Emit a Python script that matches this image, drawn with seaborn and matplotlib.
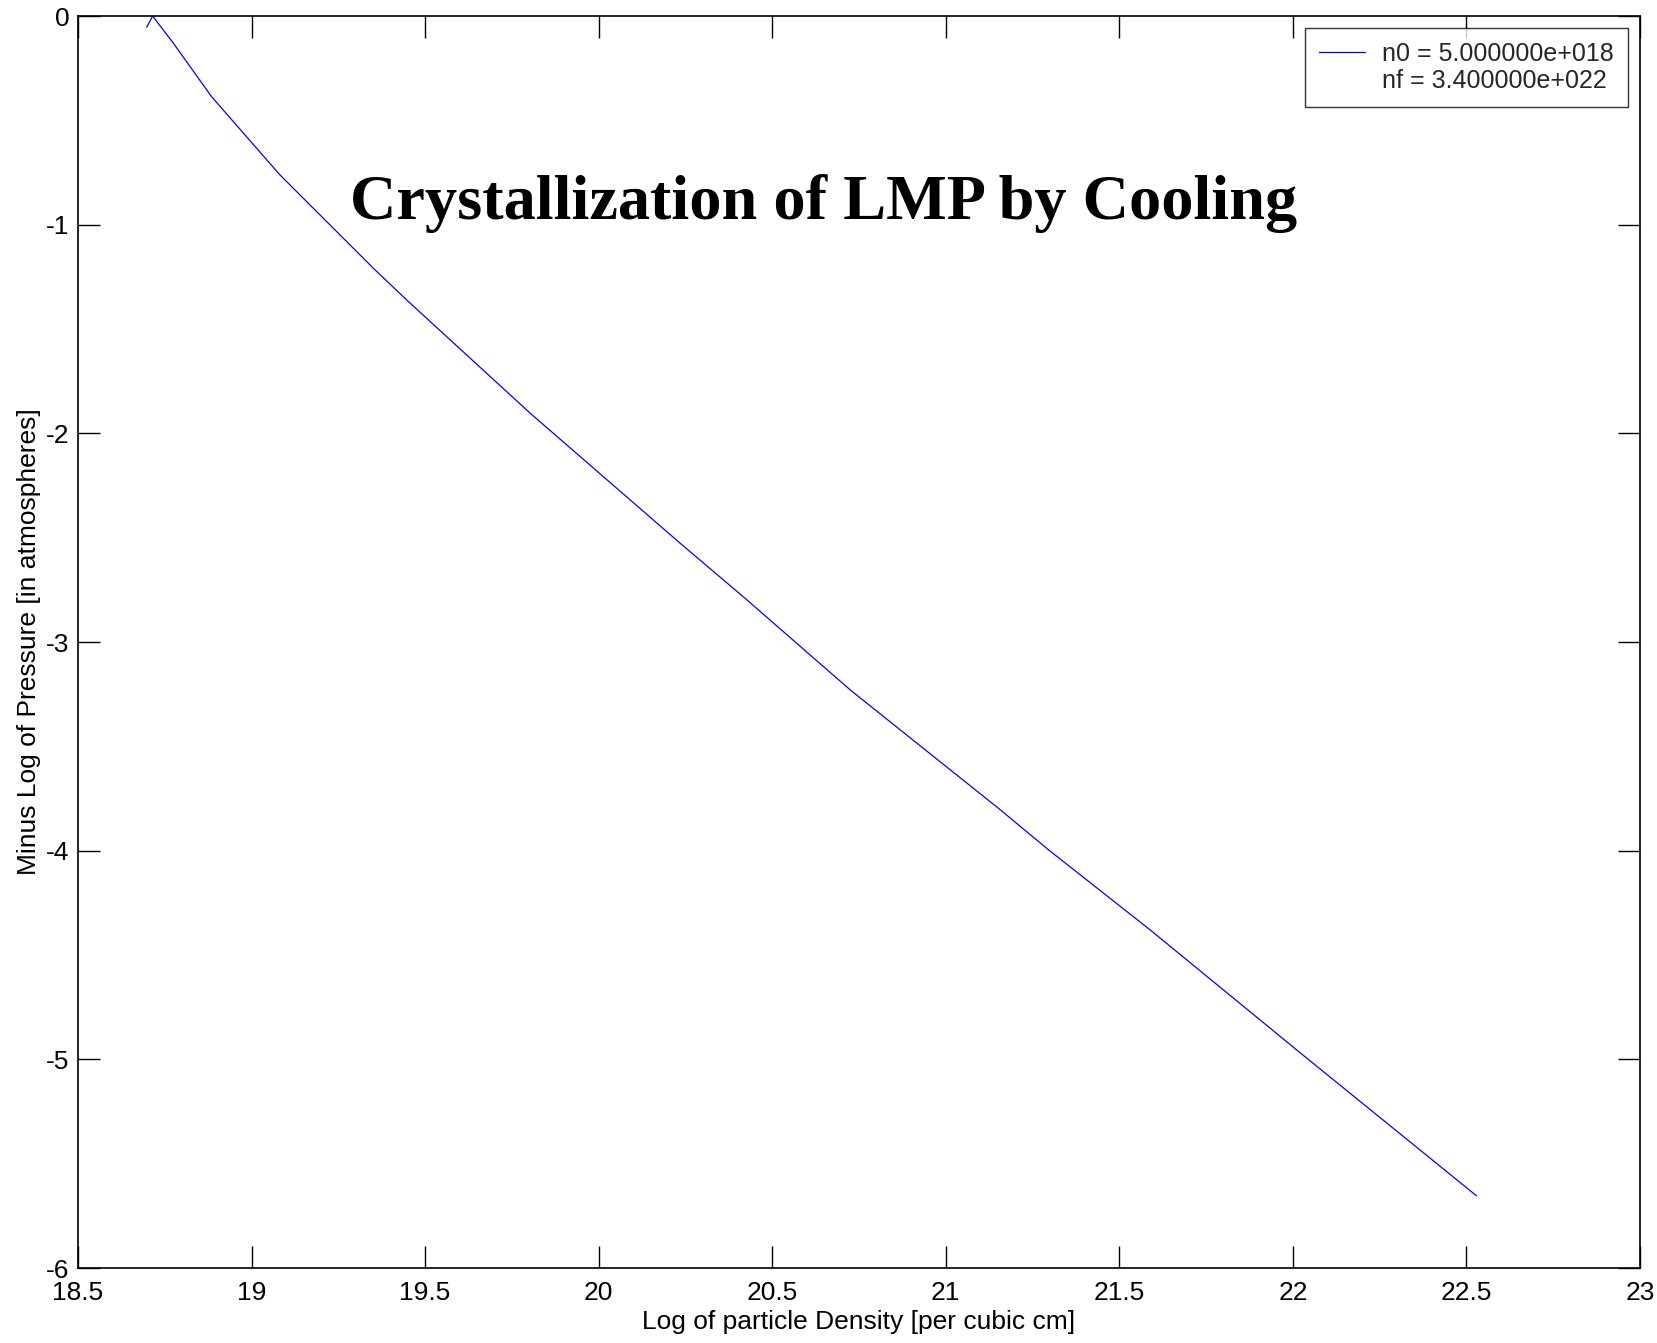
import numpy as np
import pandas as pd
import matplotlib
matplotlib.use("Agg")
import matplotlib.pyplot as plt
from matplotlib.lines import Line2D
import seaborn as sns

# Data
log_density = [18.698, 18.715, 18.775, 18.885, 19.082, 19.351, 19.447, 19.803,
               20.235, 20.427, 20.725, 21.157, 21.296, 21.589, 22.022, 22.529]
minus_log_pressure = [-0.054, 0.0, -0.131, -0.387, -0.762, -1.209, -1.361, -1.904,
                      -2.527, -2.798, -3.230, -3.804, -3.996, -4.380, -4.970, -5.654]
x_ticks = [18.5, 19, 19.5, 20, 20.5, 21, 21.5, 22, 22.5, 23]
x_tick_labels = ["18.5", "19", "19.5", "20", "20.5", "21", "21.5", "22", "22.5", "23"]
y_ticks = [-6, -5, -4, -3, -2, -1, 0]
y_tick_labels = ["-6", "-5", "-4", "-3", "-2", "-1", "0"]
legend_labels = ["n0 = 5.000000e+018", "nf = 3.400000e+022"]
title_text = "Crystallization of LMP by Cooling"
x_label = "Log of particle Density [per cubic cm]"
y_label = "Minus Log of Pressure [in atmospheres]"

sns.set_theme(style="white")
plt.rcParams['font.family'] = ['Liberation Sans', 'DejaVu Sans']

df = pd.DataFrame({"x": log_density, "y": minus_log_pressure})

fig = plt.figure(figsize=(16.58, 13.43), dpi=100)
ax = fig.add_axes([78/1658, 1 - 1268/1343, (1640-78)/1658, (1268-16)/1343])

sns.lineplot(data=df, x="x", y="y", ax=ax, color="#0000ff", linewidth=0.9,
             sort=False, estimator=None)

ax.set_xlim(18.5, 23)
ax.set_ylim(-6, 0)
ax.set_xticks(x_ticks)
ax.set_xticklabels(x_tick_labels)
ax.set_yticks(y_ticks)
ax.set_yticklabels(y_tick_labels)
ax.tick_params(axis="both", which="both", direction="in", length=16, width=1,
               colors="black", labelsize=19, top=True, right=True,
               bottom=True, left=True)
ax.tick_params(axis="y", pad=6)
ax.tick_params(axis="x", pad=9)
for s in ax.spines.values():
    s.set_color("black")
    s.set_linewidth(1.2)
    s.set_visible(True)

ax.set_xlabel(x_label, fontsize=19, color="black", labelpad=4)
ax.set_ylabel(y_label, fontsize=19, color="black", labelpad=4)

ax.text(0.4776, 0.838, title_text, transform=ax.transAxes, ha="center",
        va="baseline", fontsize=46.3, fontweight="bold",
        family=["Liberation Serif", "DejaVu Serif"], color="black")

handles = [Line2D([], [], color="#0000ff", linewidth=0.9),
           Line2D([], [], color="none", linewidth=0)]
leg = ax.legend(handles, legend_labels, loc="upper right",
                bbox_to_anchor=(1 - 12/1562, 1 - 12/1252),
                fontsize=18, frameon=True, fancybox=False, borderpad=0.55,
                handlelength=1.85, handletextpad=0.7, labelspacing=0.15,
                borderaxespad=0)
leg.get_frame().set_edgecolor("black")
leg.get_frame().set_linewidth(1.0)

fig.savefig("out.png", dpi=100, facecolor="white")
